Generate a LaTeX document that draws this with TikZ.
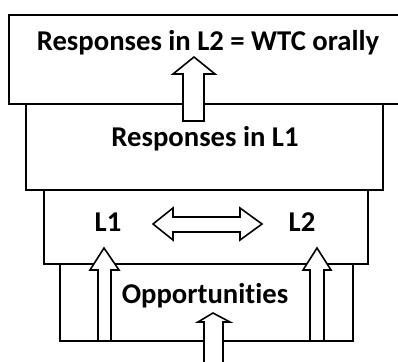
\documentclass[tikz,border=0pt]{standalone}
\usepackage{fontspec}
\setmainfont[Ligatures=NoCommon]{Carlito}
\begin{document}
\begin{tikzpicture}[x=0.75pt,y=-0.75pt,
  box/.style={draw=black,line width=1.4pt,fill=white},
  blockarrow/.style={draw=black,line width=1.2pt,fill=white,line join=miter},
  lbl/.style={font=\bfseries\fontsize{21.5}{24}\selectfont,inner sep=0pt}]
\useasboundingbox (0,0) rectangle (398,361);
% boxes
\draw[box] (9,15) rectangle (410,104);
\draw[box] (26,104) rectangle (383,190);
\draw[box] (44,190) rectangle (368,264);
\draw[box] (60,264) rectangle (353,341);
% arrows
\draw[blockarrow] (194,57) -- (215,74) -- (204,74) -- (204,121) -- (183,121) -- (183,74) -- (173,74) -- cycle;
\draw[blockarrow] (104,248) -- (119,270) -- (111,270) -- (111,341) -- (98,341) -- (98,270) -- (90,270) -- cycle;
\draw[blockarrow] (317,248) -- (331,270) -- (324,270) -- (324,341) -- (310,341) -- (310,270) -- (303,270) -- cycle;
\draw[blockarrow] (213,313) -- (230,322) -- (223,322) -- (223,370) -- (204,370) -- (204,322) -- (198,322) -- cycle;
\draw[blockarrow] (153,224) -- (173,208) -- (173,217) -- (240,217) -- (240,208) -- (262,224) -- (240,240) -- (240,232) -- (173,232) -- (173,240) -- cycle;
% labels
\node[lbl] (t1) at (208,43) {Responses in L2 = WTC orally};
\node[lbl] (t2) at (205,139) {Responses in L1};
\node[lbl] (l1) at (108,222) {L1};
\node[lbl] (l2) at (302,222) {L2};
\node[lbl] (op) at (205,296) {Opportunities};
\end{tikzpicture}
\end{document}
